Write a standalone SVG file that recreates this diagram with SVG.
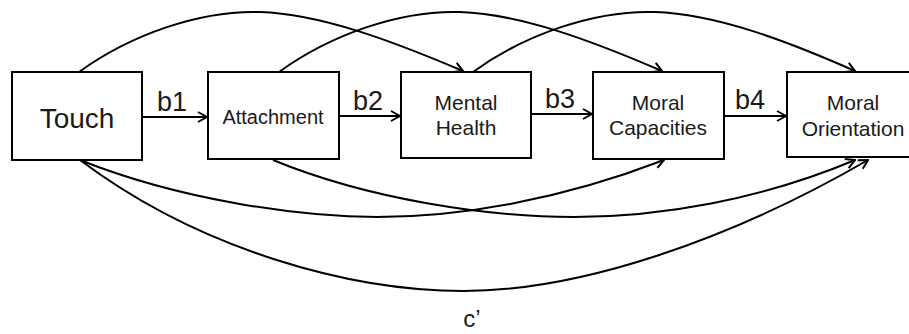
<svg xmlns="http://www.w3.org/2000/svg" width="909" height="334" viewBox="0 0 909 334">
<style>
.box{fill:#fff;stroke:#000;stroke-width:2}
.lbl{font-family:"Liberation Sans",Arial,sans-serif;fill:#1a1a1a;text-anchor:middle}
.con{fill:none;stroke:#000;stroke-width:2;marker-end:url(#ah)}
</style>
<defs>
<marker id="ah" markerUnits="userSpaceOnUse" markerWidth="12" markerHeight="12" viewBox="0 0 12 12" refX="11" refY="6" orient="auto">
<path d="M2,1 L11,6 L2,11" fill="none" stroke="#000" stroke-width="2"/>
</marker>
</defs>
<g id="connectors">
<path class="con" d="M142,117 L207,117"/>
<path class="con" d="M339,116 L400,116"/>
<path class="con" d="M531,114 L592,114"/>
<path class="con" d="M724,116 L786,116"/>
<path class="con" d="M79,72 C130,35 200,10 260,12 C320,14 390,40 463,71"/>
<path class="con" d="M279,72 C330,35 400,10 460,12 C520,14 590,40 662,71"/>
<path class="con" d="M473,72 C524,35 594,10 655,12 C715,14 785,40 855,71"/>
<path class="con" d="M80,160 C180,200 300,217 377,217 C460,217 560,200 664,160"/>
<path class="con" d="M273,160 C370,200 490,217 574,217 C660,217 760,200 855,160"/>
<path class="con" d="M80,160 C200,250 350,291 464,291 C580,291 730,240 868,160"/>
<text class="lbl" x="172" y="111" font-size="27">b1</text>
<text class="lbl" x="368" y="110" font-size="27">b2</text>
<text class="lbl" x="560" y="108" font-size="27">b3</text>
<text class="lbl" x="750" y="109" font-size="27">b4</text>
<text class="lbl" x="472" y="327" font-size="24">c’</text>
</g>
<g id="touch">
<rect class="box" x="12" y="72" width="130" height="88"/>
<text class="lbl" x="77" y="128" font-size="28">Touch</text>
</g>
<g id="attachment">
<rect class="box" x="208" y="72" width="131" height="87"/>
<text class="lbl" x="273" y="124" font-size="20">Attachment</text>
</g>
<g id="mental-health">
<rect class="box" x="401" y="72" width="130" height="86"/>
<text class="lbl" x="466" y="110" font-size="21">Mental</text>
<text class="lbl" x="466" y="135" font-size="21">Health</text>
</g>
<g id="moral-capacities">
<rect class="box" x="593" y="72" width="131" height="87"/>
<text class="lbl" x="658" y="110" font-size="21">Moral</text>
<text class="lbl" x="658" y="135" font-size="21">Capacities</text>
</g>
<g id="moral-orientation">
<rect class="box" x="787" y="72" width="132" height="85"/>
<text class="lbl" x="853" y="110" font-size="21">Moral</text>
<text class="lbl" x="853" y="136" font-size="21">Orientation</text>
</g>
</svg>
